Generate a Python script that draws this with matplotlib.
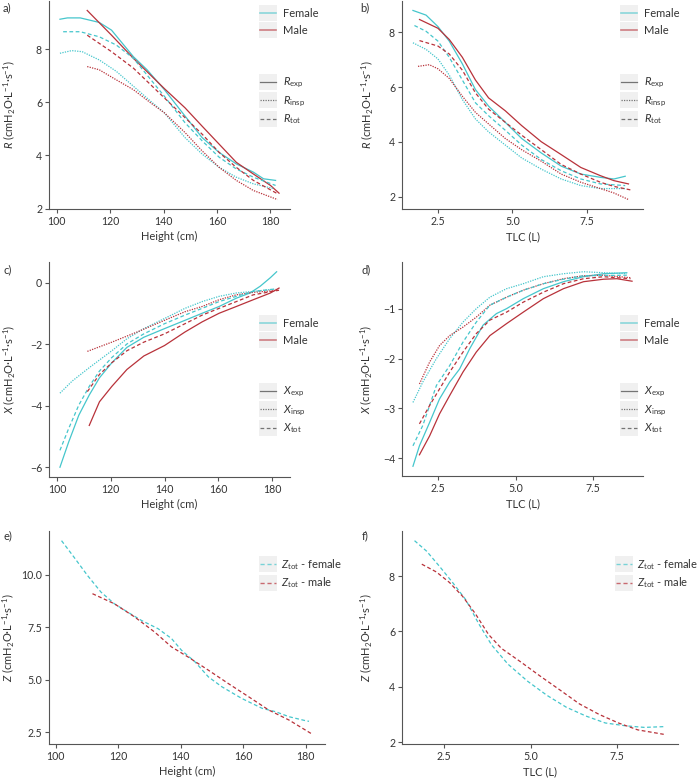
import matplotlib
matplotlib.use('Agg')
import matplotlib.pyplot as plt
from matplotlib.legend_handler import HandlerLine2D
from matplotlib.patches import Rectangle
from matplotlib.lines import Line2D

# Font settings
plt.rcParams['font.family'] = ['Lato', 'DejaVu Sans']
plt.rcParams['mathtext.fontset'] = 'custom'
plt.rcParams['mathtext.rm'] = 'Lato'
plt.rcParams['mathtext.it'] = 'Lato:italic'
fs = 7.6
plt.rcParams['font.size'] = fs

# Colours
col_f = '#45c6cc'
col_m = '#b8323a'
txt = '#333333'

# ---- a) R vs height ----
ha_f_exp = [101.2, 104.0, 108.8, 115.9, 120.5, 128.7, 133.8, 140.3, 148.0, 154.4, 160.8, 167.2, 173.6, 177.4, 181.9]
ra_f_exp = [9.12, 9.17, 9.17, 9.00, 8.71, 7.71, 7.22, 6.47, 5.48, 4.67, 4.11, 3.68, 3.37, 3.12, 3.06]
ha_m_exp = [111.4, 120.5, 128.7, 140.3, 148.0, 154.4, 160.8, 167.2, 173.6, 180.0, 183.2]
ra_m_exp = [9.45, 8.52, 7.65, 6.51, 5.79, 5.10, 4.42, 3.74, 3.30, 2.87, 2.58]
ha_f_tot = [102.4, 108.8, 115.9, 122.3, 128.7, 140.3, 148.0, 154.4, 160.8, 167.2, 173.6, 181.9]
ra_f_tot = [8.65, 8.65, 8.46, 8.15, 7.65, 6.22, 5.23, 4.55, 3.93, 3.49, 3.18, 2.87]
ha_m_tot = [111.4, 120.5, 128.7, 140.3, 148.0, 154.4, 160.8, 167.2, 173.6, 182.6]
ra_m_tot = [8.52, 7.90, 7.28, 6.16, 5.42, 4.80, 4.11, 3.55, 3.06, 2.56]
ha_f_insp = [101.2, 105.6, 109.5, 115.9, 122.3, 128.7, 135.1, 140.3, 148.0, 154.4, 160.8, 167.2, 173.6, 181.3]
ra_f_insp = [7.84, 7.94, 7.90, 7.59, 7.16, 6.60, 6.04, 5.60, 4.67, 4.05, 3.55, 3.18, 2.93, 2.75]
ha_m_insp = [111.4, 115.9, 122.3, 128.7, 135.1, 140.3, 148.0, 154.4, 160.8, 167.2, 173.6, 182.6]
ra_m_insp = [7.34, 7.22, 6.84, 6.47, 5.98, 5.60, 4.86, 4.17, 3.55, 3.06, 2.68, 2.34]

# ---- b) R vs TLC ----
tb_f_exp = [1.66, 2.10, 2.50, 2.88, 3.32, 3.76, 4.20, 4.76, 5.31, 5.97, 6.64, 7.30, 7.96, 8.41, 8.79]
rb_f_exp = [8.80, 8.63, 8.21, 7.68, 6.85, 5.91, 5.31, 4.72, 4.13, 3.60, 3.12, 2.83, 2.71, 2.65, 2.75]
tb_m_exp = [1.88, 2.50, 2.88, 3.32, 3.76, 4.20, 4.76, 5.31, 5.97, 6.64, 7.30, 7.96, 8.41, 8.90]
rb_m_exp = [8.47, 8.15, 7.74, 7.09, 6.26, 5.61, 5.14, 4.60, 4.01, 3.54, 3.07, 2.77, 2.59, 2.47]
tb_f_tot = [1.71, 2.10, 2.50, 2.88, 3.32, 3.76, 4.20, 4.76, 5.31, 5.97, 6.64, 7.30, 7.96, 8.79]
rb_f_tot = [8.25, 8.04, 7.68, 7.09, 6.26, 5.43, 4.96, 4.43, 3.89, 3.36, 2.95, 2.65, 2.47, 2.41]
tb_m_tot = [1.88, 2.50, 2.88, 3.32, 3.76, 4.20, 4.76, 5.31, 5.97, 6.64, 7.30, 7.96, 8.41, 9.02]
rb_m_tot = [7.70, 7.50, 7.21, 6.62, 5.79, 5.20, 4.72, 4.25, 3.72, 3.18, 2.83, 2.53, 2.38, 2.24]
tb_f_insp = [1.66, 2.10, 2.50, 2.88, 3.32, 3.76, 4.20, 4.76, 5.31, 5.97, 6.64, 7.30, 7.96, 8.79]
rb_f_insp = [7.62, 7.38, 7.03, 6.44, 5.55, 4.84, 4.37, 3.89, 3.42, 3.01, 2.65, 2.41, 2.30, 2.30]
tb_m_insp = [1.83, 2.21, 2.50, 2.88, 3.32, 3.76, 4.20, 4.76, 5.31, 5.97, 6.64, 7.30, 7.96, 8.41, 8.90]
rb_m_insp = [6.76, 6.82, 6.67, 6.32, 5.67, 5.08, 4.66, 4.13, 3.72, 3.30, 2.83, 2.53, 2.30, 2.14, 1.90]

# ---- c) X vs height ----
hc_f_exp = [101.1, 104.3, 108.1, 112.0, 115.8, 120.4, 126.0, 132.3, 140.0, 147.6, 154.0, 160.3, 166.7, 171.8, 175.6, 179.4, 181.7]
xc_f_exp = [-6.00, -5.19, -4.31, -3.65, -3.09, -2.60, -2.10, -1.77, -1.49, -1.22, -0.99, -0.77, -0.50, -0.33, -0.11, 0.17, 0.36]
hc_m_exp = [112.0, 115.8, 120.4, 126.0, 132.3, 140.0, 147.6, 154.0, 160.3, 166.7, 173.0, 179.4, 182.6]
xc_m_exp = [-4.64, -3.87, -3.37, -2.82, -2.38, -2.04, -1.60, -1.27, -0.99, -0.77, -0.55, -0.33, -0.17]
hc_f_tot = [101.1, 104.3, 108.1, 112.0, 115.8, 120.4, 126.0, 132.3, 140.0, 147.6, 154.0, 160.3, 166.7, 173.0, 181.3]
xc_f_tot = [-5.45, -4.75, -3.98, -3.37, -2.87, -2.43, -1.99, -1.66, -1.33, -1.05, -0.83, -0.61, -0.44, -0.28, -0.20]
hc_m_tot = [111.3, 115.8, 120.4, 126.0, 132.3, 140.0, 147.6, 154.0, 160.3, 166.7, 173.0, 182.6]
xc_m_tot = [-3.54, -2.98, -2.60, -2.21, -1.93, -1.66, -1.33, -1.05, -0.83, -0.61, -0.39, -0.24]
hc_f_insp = [101.1, 105.6, 112.0, 120.4, 126.0, 132.3, 140.0, 147.6, 154.0, 160.3, 166.7, 173.0, 181.3]
xc_f_insp = [-3.59, -3.20, -2.76, -2.21, -1.82, -1.49, -1.16, -0.83, -0.61, -0.44, -0.33, -0.28, -0.20]
hc_m_insp = [111.3, 120.4, 129.8, 140.0, 147.6, 154.0, 160.3, 166.7, 173.0, 182.6]
xc_m_insp = [-2.23, -1.93, -1.60, -1.22, -0.94, -0.77, -0.55, -0.39, -0.31, -0.24]

# ---- d) X vs TLC ----
td_f_exp = [1.68, 1.89, 2.22, 2.54, 2.87, 3.19, 3.52, 3.95, 4.38, 4.71, 5.25, 5.90, 6.55, 7.20, 7.85, 8.60]
xd_f_exp = [-4.16, -3.75, -3.28, -2.81, -2.47, -2.21, -1.80, -1.33, -1.10, -1.00, -0.80, -0.60, -0.46, -0.36, -0.30, -0.28]
td_m_exp = [1.89, 2.22, 2.54, 2.87, 3.30, 3.73, 4.17, 4.71, 5.25, 5.90, 6.55, 7.20, 7.85, 8.28, 8.77]
xd_m_exp = [-3.93, -3.55, -3.11, -2.74, -2.27, -1.87, -1.54, -1.30, -1.07, -0.80, -0.60, -0.46, -0.41, -0.40, -0.45]
td_f_tot = [1.68, 2.00, 2.44, 2.87, 3.30, 3.73, 4.17, 4.71, 5.25, 5.90, 6.55, 7.20, 8.60]
xd_f_tot = [-3.75, -3.34, -2.54, -2.14, -1.67, -1.27, -0.93, -0.77, -0.63, -0.50, -0.41, -0.34, -0.33]
td_m_tot = [1.89, 2.22, 2.54, 2.87, 3.30, 3.73, 4.17, 4.71, 5.25, 5.90, 6.55, 7.20, 7.85, 8.72]
xd_m_tot = [-3.31, -2.94, -2.61, -2.27, -1.87, -1.50, -1.23, -1.07, -0.87, -0.67, -0.50, -0.40, -0.36, -0.40]
td_f_insp = [1.68, 2.00, 2.44, 2.87, 3.30, 3.73, 4.17, 4.71, 5.25, 5.90, 6.55, 7.20, 7.85, 8.60]
xd_f_insp = [-2.88, -2.47, -2.00, -1.60, -1.27, -1.00, -0.77, -0.60, -0.50, -0.36, -0.30, -0.26, -0.28, -0.30]
td_m_insp = [1.89, 2.22, 2.54, 2.87, 3.30, 3.73, 4.17, 4.71, 5.25, 5.90, 6.55, 7.20, 7.85, 8.72]
xd_m_insp = [-2.51, -2.07, -1.74, -1.54, -1.37, -1.17, -0.93, -0.77, -0.63, -0.50, -0.40, -0.34, -0.33, -0.38]

# ---- e) Z vs height ----
he_f = [101.9, 105.9, 110.2, 114.5, 118.8, 123.1, 127.4, 132.8, 137.1, 140.3, 144.6, 148.9, 153.2, 159.6, 166.1, 170.4, 174.7, 180.0, 181.1]
ze_f = [11.63, 10.84, 9.97, 9.18, 8.62, 8.22, 7.83, 7.43, 6.96, 6.40, 5.85, 5.13, 4.66, 4.10, 3.63, 3.47, 3.23, 3.04, 3.01]
he_m = [111.8, 118.8, 125.2, 131.7, 137.1, 142.4, 148.9, 155.3, 161.8, 168.2, 174.7, 182.2]
ze_m = [9.10, 8.62, 8.00, 7.27, 6.56, 6.08, 5.45, 4.81, 4.18, 3.55, 3.07, 2.39]

# ---- f) Z vs TLC ----
tf_f = [1.64, 1.99, 2.37, 2.74, 3.12, 3.50, 3.87, 4.34, 4.91, 5.47, 6.03, 6.60, 7.16, 7.73, 8.29, 8.90]
zf_f = [9.28, 8.90, 8.34, 7.77, 7.15, 6.27, 5.51, 4.82, 4.20, 3.69, 3.26, 2.94, 2.69, 2.59, 2.53, 2.56]
tf_m = [1.85, 2.27, 2.65, 3.03, 3.40, 3.78, 4.15, 4.72, 5.28, 5.85, 6.41, 6.98, 7.54, 8.10, 8.85]
zf_m = [8.43, 8.15, 7.77, 7.27, 6.64, 5.89, 5.39, 4.89, 4.38, 3.88, 3.38, 3.00, 2.69, 2.44, 2.28]

W, H = 697, 779
fig = plt.figure(figsize=(W / 100, H / 100), dpi=100)


def add_ax(left, top, right, bottom, ylab_right):
    ax = fig.add_axes([left / W, 1 - bottom / H, (right - left) / W, (bottom - top) / H])
    for s in ['top', 'right']:
        ax.spines[s].set_visible(False)
    for s in ['left', 'bottom']:
        ax.spines[s].set_color('#555555')
        ax.spines[s].set_linewidth(0.8)
    ax.tick_params(colors='#555555', labelcolor=txt, length=3, width=0.8, labelsize=fs, pad=2)
    # right edge of the rotated y label, in figure pixels
    ax.yaxis.set_label_coords((ylab_right - left) / (right - left), 0.5)
    return ax


class KeyBox(HandlerLine2D):
    # legend key with a light grey square behind the line
    def create_artists(self, legend, orig_handle, xdescent, ydescent, width, height, fontsize, trans):
        arts = super().create_artists(legend, orig_handle, xdescent, ydescent, width, height, fontsize, trans)
        size = 11.5
        rect = Rectangle((-xdescent - 0.5, -ydescent + height / 2 - size / 2), width + 1, size,
                         facecolor='#f0f0f0', edgecolor='none', transform=trans)
        return [rect] + list(arts)


def key_legend(handles, labels, x, y, spacing=0.55, textpad=0.6):
    leg = fig.legend(handles, labels, loc='upper left', bbox_to_anchor=(x / W, 1 - y / H),
                     frameon=False, handlelength=1.45, handletextpad=textpad, labelspacing=spacing,
                     borderpad=0, borderaxespad=0, fontsize=fs + 0.4,
                     handler_map={Line2D: KeyBox()})
    for t in leg.get_texts():
        t.set_color(txt)
    return leg


lw = 0.9
ls_dot = (0, (1, 1))
ls_dash = (0, (3, 2))

sex_handles = [Line2D([], [], color=col_f, lw=1.2, alpha=0.6),
               Line2D([], [], color=col_m, lw=1.2, alpha=0.6)]
type_handles = [Line2D([], [], color='#555555', lw=0.9, ls='-', alpha=0.8),
                Line2D([], [], color='#555555', lw=0.9, ls=ls_dot, alpha=0.8),
                Line2D([], [], color='#555555', lw=0.9, ls=ls_dash, alpha=0.8)]

ylab_r = r'$\mathit{R}$ (cmH$_2$O·L$^{-1}$·s$^{-1}$)'
ylab_x = r'$\mathit{X}$ (cmH$_2$O·L$^{-1}$·s$^{-1}$)'
ylab_z = r'$\mathit{Z}$ (cmH$_2$O·L$^{-1}$·s$^{-1}$)'
r_labels = [r'$\mathit{R}_{\mathrm{exp}}$', r'$\mathit{R}_{\mathrm{insp}}$', r'$\mathit{R}_{\mathrm{tot}}$']
x_labels = [r'$\mathit{X}_{\mathrm{exp}}$', r'$\mathit{X}_{\mathrm{insp}}$', r'$\mathit{X}_{\mathrm{tot}}$']
z_labels = [r'$\mathit{Z}_{\mathrm{tot}}$ - female', r'$\mathit{Z}_{\mathrm{tot}}$ - male']

# a)
ax = add_ax(49, 1, 290, 209, 17)
ax.plot(ha_f_exp, ra_f_exp, color=col_f, lw=lw)
ax.plot(ha_m_exp, ra_m_exp, color=col_m, lw=lw)
ax.plot(ha_f_insp, ra_f_insp, color=col_f, lw=lw, ls=ls_dot)
ax.plot(ha_m_insp, ra_m_insp, color=col_m, lw=lw, ls=ls_dot)
ax.plot(ha_f_tot, ra_f_tot, color=col_f, lw=lw, ls=ls_dash)
ax.plot(ha_m_tot, ra_m_tot, color=col_m, lw=lw, ls=ls_dash)
ax.set_xticks([100, 120, 140, 160, 180])
ax.set_yticks([2, 4, 6, 8])
ax.set_xlabel('Height (cm)', color=txt, labelpad=3, fontsize=fs + 0.4)
ax.set_ylabel(ylab_r, color=txt, fontsize=fs + 0.4)
key_legend(sex_handles, ['Female', 'Male'], 260, 8)
key_legend(type_handles, r_labels, 260, 76, 0.35)

# b)
ax = add_ax(402, 1, 643, 209, 375)
ax.plot(tb_f_exp, rb_f_exp, color=col_f, lw=lw)
ax.plot(tb_m_exp, rb_m_exp, color=col_m, lw=lw)
ax.plot(tb_f_insp, rb_f_insp, color=col_f, lw=lw, ls=ls_dot)
ax.plot(tb_m_insp, rb_m_insp, color=col_m, lw=lw, ls=ls_dot)
ax.plot(tb_f_tot, rb_f_tot, color=col_f, lw=lw, ls=ls_dash)
ax.plot(tb_m_tot, rb_m_tot, color=col_m, lw=lw, ls=ls_dash)
ax.set_xticks([2.5, 5.0, 7.5])
ax.set_yticks([2, 4, 6, 8])
ax.set_xlabel('TLC (L)', color=txt, labelpad=3, fontsize=fs + 0.4)
ax.set_ylabel(ylab_r, color=txt, fontsize=fs + 0.4)
key_legend(sex_handles, ['Female', 'Male'], 621, 8)
key_legend(type_handles, r_labels, 621, 76, 0.35)

# c)
ax = add_ax(49, 262, 290, 477, 17)
ax.plot(hc_f_exp, xc_f_exp, color=col_f, lw=lw)
ax.plot(hc_m_exp, xc_m_exp, color=col_m, lw=lw)
ax.plot(hc_f_insp, xc_f_insp, color=col_f, lw=lw, ls=ls_dot)
ax.plot(hc_m_insp, xc_m_insp, color=col_m, lw=lw, ls=ls_dot)
ax.plot(hc_f_tot, xc_f_tot, color=col_f, lw=lw, ls=ls_dash)
ax.plot(hc_m_tot, xc_m_tot, color=col_m, lw=lw, ls=ls_dash)
ax.set_xticks([100, 120, 140, 160, 180])
ax.set_yticks([-6, -4, -2, 0])
ax.set_xlabel('Height (cm)', color=txt, labelpad=3, fontsize=fs + 0.4)
ax.set_ylabel(ylab_x, color=txt, fontsize=fs + 0.4)
key_legend(sex_handles, ['Female', 'Male'], 260, 318)
key_legend(type_handles, x_labels, 260, 385, 0.35)

# d)
ax = add_ax(402, 262, 643, 476, 374)
ax.plot(td_f_exp, xd_f_exp, color=col_f, lw=lw)
ax.plot(td_m_exp, xd_m_exp, color=col_m, lw=lw)
ax.plot(td_f_insp, xd_f_insp, color=col_f, lw=lw, ls=ls_dot)
ax.plot(td_m_insp, xd_m_insp, color=col_m, lw=lw, ls=ls_dot)
ax.plot(td_f_tot, xd_f_tot, color=col_f, lw=lw, ls=ls_dash)
ax.plot(td_m_tot, xd_m_tot, color=col_m, lw=lw, ls=ls_dash)
ax.set_xticks([2.5, 5.0, 7.5])
ax.set_yticks([-4, -3, -2, -1])
ax.set_xlabel('TLC (L)', color=txt, labelpad=3, fontsize=fs + 0.4)
ax.set_ylabel(ylab_x, color=txt, fontsize=fs + 0.4)
key_legend(sex_handles, ['Female', 'Male'], 621, 318)
key_legend(type_handles, x_labels, 621, 385, 0.35)

# e)
ax = add_ax(49, 531, 325, 744, 16)
ax.plot(he_f, ze_f, color=col_f, lw=lw, ls=ls_dash)
ax.plot(he_m, ze_m, color=col_m, lw=lw, ls=ls_dash)
ax.set_xticks([100, 120, 140, 160, 180])
ax.set_yticks([2.5, 5.0, 7.5, 10.0])
ax.set_xlabel('Height (cm)', color=txt, labelpad=3, fontsize=fs + 0.4)
ax.set_ylabel(ylab_z, color=txt, fontsize=fs + 0.4)
z_handles = [Line2D([], [], color=col_f, lw=1.0, ls=ls_dash, alpha=0.7),
             Line2D([], [], color=col_m, lw=1.0, ls=ls_dash, alpha=0.7)]
key_legend(z_handles, z_labels, 260, 557, 0.35, 0.45)

# f)
ax = add_ax(402, 531, 678, 744, 374)
ax.plot(tf_f, zf_f, color=col_f, lw=lw, ls=ls_dash)
ax.plot(tf_m, zf_m, color=col_m, lw=lw, ls=ls_dash)
ax.set_xticks([2.5, 5.0, 7.5])
ax.set_yticks([2, 4, 6, 8])
ax.set_xlabel('TLC (L)', color=txt, labelpad=3, fontsize=fs + 0.4)
ax.set_ylabel(ylab_z, color=txt, fontsize=fs + 0.4)
key_legend(z_handles, z_labels, 616, 557, 0.35, 0.45)

# panel letters
for lab, px, py in [('a)', 3, 8), ('b)', 360, 8), ('c)', 3, 270), ('d)', 362, 270), ('e)', 3, 536), ('f)', 362, 536)]:
    fig.text(px / W, 1 - py / H, lab, color=txt, fontsize=fs + 0.4, va='center', ha='left')

fig.savefig('out.png', dpi=100)
